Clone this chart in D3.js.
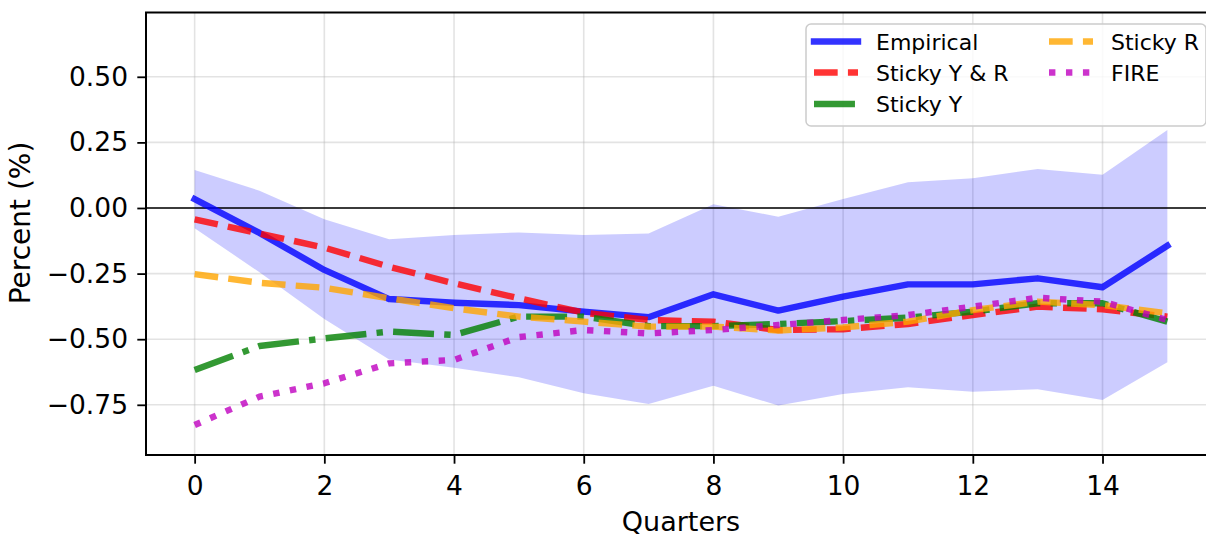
<!DOCTYPE html>
<html>
<head>
<meta charset="utf-8">
<script src="https://cdn.jsdelivr.net/npm/d3@7"></script>
<style>
  body { margin: 0; background: #fff; }
  svg { display: block; font-family: "DejaVu Sans", sans-serif; }
</style>
</head>
<body>
<div id="chart"></div>
<script>
// data
var quarters = [0, 1, 2, 3, 4, 5, 6, 7, 8, 9, 10, 11, 12, 13, 14, 15];
var empirical = [0.034, -0.095, -0.236, -0.347, -0.361, -0.370, -0.395, -0.416, -0.329, -0.391, -0.338, -0.291, -0.291, -0.268, -0.302, -0.144];
var upperBand = [0.145, 0.066, -0.043, -0.119, -0.103, -0.093, -0.103, -0.097, 0.014, -0.033, 0.034, 0.098, 0.113, 0.149, 0.127, 0.297];
var lowerBand = [-0.077, -0.245, -0.423, -0.577, -0.609, -0.645, -0.706, -0.747, -0.677, -0.753, -0.709, -0.683, -0.700, -0.691, -0.732, -0.588];
var stickyYR = [-0.043, -0.097, -0.151, -0.224, -0.287, -0.344, -0.399, -0.427, -0.433, -0.465, -0.462, -0.442, -0.408, -0.376, -0.386, -0.414];
var stickyY = [-0.617, -0.526, -0.497, -0.471, -0.484, -0.414, -0.414, -0.450, -0.450, -0.442, -0.431, -0.418, -0.395, -0.363, -0.363, -0.433];
var stickyR = [-0.252, -0.285, -0.304, -0.344, -0.382, -0.414, -0.433, -0.452, -0.452, -0.467, -0.455, -0.433, -0.389, -0.357, -0.370, -0.401];
var fire = [-0.827, -0.719, -0.668, -0.592, -0.579, -0.492, -0.465, -0.478, -0.465, -0.446, -0.427, -0.408, -0.376, -0.342, -0.357, -0.427];

var seriesNames = ["Empirical", "Sticky Y & R", "Sticky Y", "Sticky R", "FIRE"];
var xTicks = [0, 2, 4, 6, 8, 10, 12, 14];
var yTicks = [-0.75, -0.5, -0.25, 0, 0.25, 0.5];

var lw = 6.4;
var series = [
  { name: seriesNames[0], values: empirical, color: "#0000ff", dash: null },
  { name: seriesNames[1], values: stickyYR, color: "#ff0000", dash: [3.7 * lw, 1.6 * lw] },
  { name: seriesNames[2], values: stickyY, color: "#008000", dash: [6.4 * lw, 1.6 * lw, 1 * lw, 1.6 * lw] },
  { name: seriesNames[3], values: stickyR, color: "#ffa500", dash: [3.7 * lw, 1.6 * lw] },
  { name: seriesNames[4], values: fire, color: "#bf00bf", dash: [1 * lw, 1.65 * lw] }
];

var width = 1206, height = 535;
var pLeft = 146, pRight = 1216, pTop = 12.5, pBottom = 455;

var x = d3.scaleLinear().domain([-0.75, 15.75]).range([pLeft, pRight]);
var y = d3.scaleLinear().domain([-0.9413, 0.745]).range([pBottom, pTop]);

var svg = d3.select("#chart").append("svg")
  .attr("width", width)
  .attr("height", height);

var plot = svg.append("g");

// grid
plot.selectAll(".vgrid").data(xTicks).enter().append("line")
  .attr("x1", function(d) { return x(d); }).attr("x2", function(d) { return x(d); })
  .attr("y1", pTop).attr("y2", pBottom)
  .attr("stroke", "#b0b0b0").attr("stroke-opacity", 0.35).attr("stroke-width", 1.6);
plot.selectAll(".hgrid").data(yTicks).enter().append("line")
  .attr("y1", function(d) { return y(d); }).attr("y2", function(d) { return y(d); })
  .attr("x1", pLeft).attr("x2", pRight)
  .attr("stroke", "#b0b0b0").attr("stroke-opacity", 0.35).attr("stroke-width", 1.6);

// confidence band
var area = d3.area()
  .x(function(d, i) { return x(quarters[i]); })
  .y0(function(d, i) { return y(lowerBand[i]); })
  .y1(function(d, i) { return y(upperBand[i]); });
plot.append("path")
  .datum(quarters)
  .attr("d", area)
  .attr("fill", "#0000ff")
  .attr("fill-opacity", 0.2);

// zero line
plot.append("line")
  .attr("x1", pLeft).attr("x2", pRight)
  .attr("y1", y(0)).attr("y2", y(0))
  .attr("stroke", "#000").attr("stroke-width", 1.3);

var line = d3.line()
  .x(function(d, i) { return x(quarters[i]); })
  .y(function(d) { return y(d); });

series.forEach(function(s) {
  plot.append("path")
    .datum(s.values)
    .attr("d", line)
    .attr("fill", "none")
    .attr("stroke", s.color)
    .attr("stroke-opacity", 0.8)
    .attr("stroke-width", lw)
    .attr("stroke-linejoin", "round")
    .attr("stroke-linecap", s.dash ? "butt" : "square")
    .attr("stroke-dasharray", s.dash ? s.dash.join(",") : null);
});

// axes
var fmt = d3.format(".2f");
var xAxis = svg.append("g")
  .attr("transform", "translate(0," + pBottom + ")")
  .call(d3.axisBottom(x).tickValues(xTicks).tickSize(8.7).tickSizeOuter(0).tickFormat(d3.format("d")));
xAxis.selectAll("text").attr("dy", null).attr("y", 40);

var yAxis = svg.append("g")
  .attr("transform", "translate(" + pLeft + ",0)")
  .call(d3.axisLeft(y).tickValues(yTicks).tickSize(8.7).tickSizeOuter(0).tickFormat(fmt));
yAxis.selectAll("text").attr("x", -18);

[xAxis, yAxis].forEach(function(a) {
  a.select(".domain").remove();
  a.selectAll(".tick line").attr("stroke", "#000").attr("stroke-width", 1.8);
  a.selectAll("text")
    .attr("fill", "#000")
    .style("font-size", "26.5px")
    .style("font-family", "DejaVu Sans");
});

// spines
svg.append("rect")
  .attr("x", pLeft).attr("y", pTop)
  .attr("width", pRight - pLeft).attr("height", pBottom - pTop)
  .attr("fill", "none").attr("stroke", "#000").attr("stroke-width", 2);

// axis labels
svg.append("text")
  .attr("x", (pLeft + pRight) / 2).attr("y", 531)
  .attr("text-anchor", "middle")
  .style("font-size", "27px")
  .text("Quarters");

svg.append("text")
  .attr("transform", "translate(30,223) rotate(-90)")
  .attr("text-anchor", "middle")
  .style("font-size", "28px")
  .text("Percent (%)");

// legend
var legend = svg.append("g");
legend.append("rect")
  .attr("x", 806).attr("y", 24)
  .attr("width", 400).attr("height", 102)
  .attr("rx", 5)
  .attr("fill", "#fff").attr("fill-opacity", 0.8)
  .attr("stroke", "#cccccc").attr("stroke-width", 1.5);

var rowY = [41.5, 72.5, 104];
var colX = [814, 1049];
var items = legend.selectAll(".legend").data(series).enter().append("g")
  .attr("class", "legend")
  .attr("transform", function(d, i) {
    var col = i < 3 ? 0 : 1;
    var row = i < 3 ? i : i - 3;
    return "translate(" + colX[col] + "," + rowY[row] + ")";
  });

items.append("line")
  .attr("x1", 0).attr("x2", 44)
  .attr("y1", 0).attr("y2", 0)
  .attr("stroke", function(d) { return d.color; })
  .attr("stroke-opacity", 0.8)
  .attr("stroke-width", lw)
  .attr("stroke-linecap", function(d) { return d.dash ? "butt" : "square"; })
  .attr("stroke-dasharray", function(d) { return d.dash ? d.dash.join(",") : null; });

items.append("text")
  .attr("x", 62)
  .attr("y", 8)
  .style("font-size", "22px")
  .text(function(d) { return d.name; });
</script>
</body>
</html>
